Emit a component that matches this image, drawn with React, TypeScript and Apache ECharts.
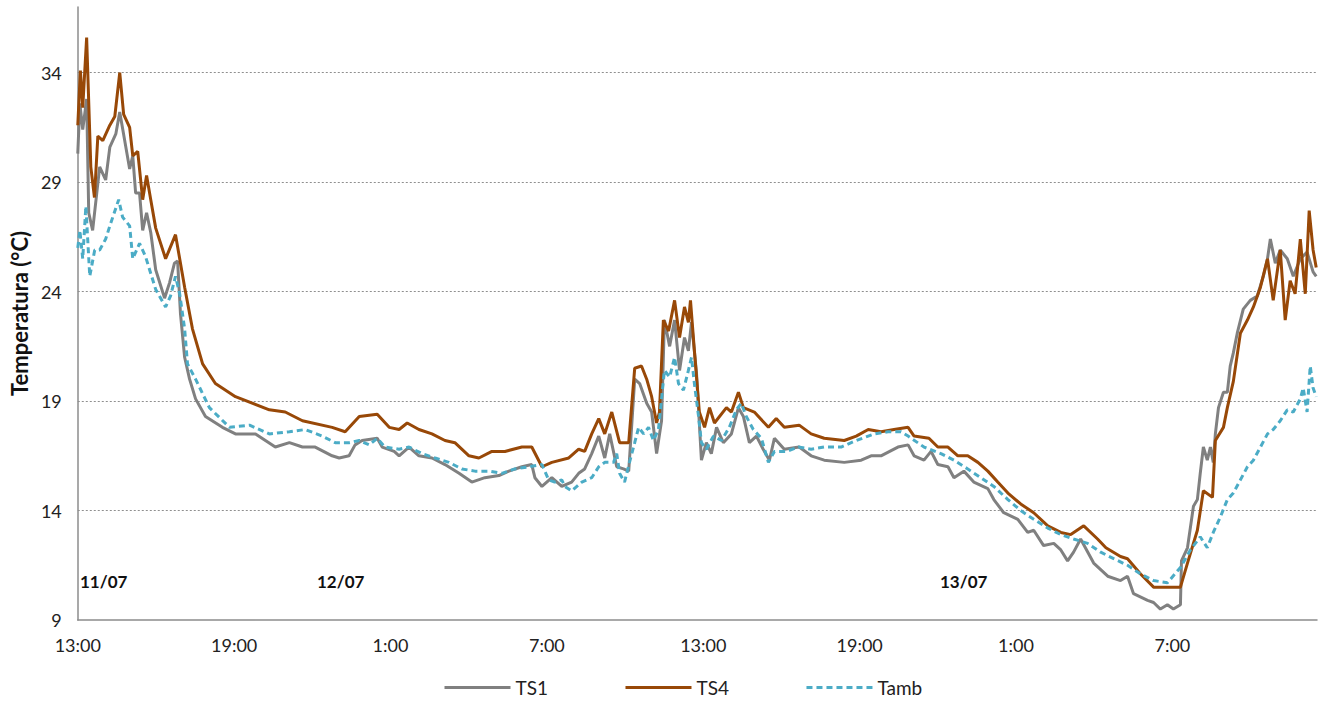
import React, { useEffect, useRef } from "react";
import * as echarts from "echarts";

// hours since 13:00 on 11/07
const ts1Hours = [0,0.08,0.19,0.34,0.42,0.57,0.84,1.07,1.23,1.46,1.61,1.8,1.99,2.11,2.22,2.37,2.49,2.64,2.8,2.99,3.33,3.52,3.71,3.83,3.94,4.1,4.29,4.52,4.9,5.55,6.05,6.82,7.58,8.12,8.62,9.11,9.76,10.03,10.41,10.64,10.91,11.49,11.68,12.14,12.33,12.71,13.09,13.59,14.09,14.63,15.12,15.62,16.16,16.54,17.04,17.42,17.54,17.81,18.19,18.57,18.95,19.22,19.45,19.72,19.99,20.22,20.41,20.68,20.94,21.14,21.37,21.56,21.83,22.02,22.21,22.4,22.51,22.71,22.9,23.09,23.28,23.43,23.55,23.74,23.93,24.12,24.31,24.51,24.77,25.08,25.35,25.54,25.77,26.04,26.3,26.54,26.73,27.11,27.68,28.14,28.64,29.41,30.06,30.44,30.82,31.47,31.86,32.09,32.47,32.74,33.0,33.39,33.62,34.0,34.38,34.92,35.15,35.53,36.07,36.45,36.68,37.06,37.45,37.72,37.98,38.21,38.48,38.98,39.52,40.01,40.28,40.51,41.05,41.28,41.54,41.81,42.04,42.31,42.35,42.58,42.81,42.96,43.07,43.19,43.34,43.46,43.57,43.65,43.77,43.96,44.11,44.22,44.34,44.49,44.72,44.99,45.26,45.49,45.65,45.76,45.95,46.14,46.41,46.64,46.91,47.17,47.4,47.52];
const ts1Values = [30.3,32.6,31.4,32.8,27.6,26.8,29.7,29.1,30.6,31.2,32.2,30.9,29.6,30.2,28.5,28.5,26.8,27.6,26.7,25.0,23.7,24.4,25.3,25.4,23.0,21.0,20.0,19.1,18.3,17.8,17.5,17.5,16.9,17.1,16.9,16.9,16.5,16.4,16.5,17.0,17.2,17.3,16.9,16.7,16.5,16.9,16.5,16.4,16.1,15.7,15.3,15.5,15.6,15.8,16.0,16.1,15.5,15.1,15.5,15.1,15.3,15.7,15.9,16.6,17.4,16.4,17.5,16.0,15.9,15.8,20.0,19.8,18.9,18.5,16.6,18.1,22.7,21.5,22.7,20.4,21.9,21.3,22.6,20.3,16.3,17.1,16.6,17.8,17.1,17.5,18.7,18.3,17.1,17.4,16.8,16.3,17.3,16.8,16.9,16.5,16.3,16.2,16.3,16.5,16.5,16.9,17.0,16.5,16.3,16.7,16.1,16.0,15.5,15.8,15.3,15.0,14.5,13.9,13.6,13.0,13.1,12.4,12.5,12.2,11.7,12.1,12.7,11.6,11.0,10.8,11.0,10.2,9.9,9.8,9.5,9.7,9.5,9.7,11.7,12.3,14.2,14.5,15.7,16.9,16.3,16.9,16.2,17.5,18.7,19.4,19.4,20.6,21.2,22.1,23.2,23.6,23.8,24.7,25.5,26.4,25.3,25.9,25.5,24.7,25.5,25.8,24.9,24.7];

const ts4Hours = [0,0.1,0.19,0.34,0.5,0.64,0.77,0.96,1.23,1.42,1.61,1.76,1.99,2.11,2.3,2.49,2.64,2.8,2.99,3.37,3.75,4.1,4.4,4.79,5.28,6.05,7.35,7.96,8.62,9.76,10.26,10.8,11.49,11.95,12.33,12.64,13.09,13.59,14.09,14.47,15.01,15.39,15.89,16.39,17.04,17.42,17.81,18.19,18.84,19.22,19.45,19.72,19.99,20.22,20.49,20.79,21.14,21.37,21.63,21.83,22.02,22.21,22.32,22.47,22.67,22.9,23.09,23.28,23.43,23.51,23.66,23.85,24.05,24.24,24.43,24.89,25.08,25.35,25.54,25.96,26.5,26.8,27.11,27.68,28.14,28.64,29.41,29.87,30.33,30.82,31.32,31.86,32.09,32.66,33.0,33.39,33.77,34.15,34.54,34.92,35.3,35.69,36.18,36.68,37.22,37.72,38.1,38.6,39.13,39.45,40.01,40.28,40.78,41.28,41.81,42.31,42.58,42.96,43.19,43.54,43.65,43.96,44.11,44.34,44.61,44.88,45.11,45.38,45.65,45.87,46.14,46.33,46.52,46.71,46.91,47.1,47.25,47.4,47.52];
const ts4Values = [31.6,34.1,32.4,35.6,29.7,28.3,31.1,30.9,31.6,32.0,34.0,32.1,31.5,30.2,30.4,28.2,29.3,28.2,26.9,25.5,26.6,24.2,22.3,20.7,19.8,19.2,18.6,18.5,18.1,17.8,17.6,18.3,18.4,17.8,17.7,18.0,17.7,17.5,17.2,17.1,16.5,16.4,16.7,16.7,16.9,16.9,16.0,16.2,16.4,16.8,16.7,17.5,18.2,17.5,18.5,17.1,17.1,20.5,20.6,20.0,19.2,18.0,18.5,22.7,22.2,23.6,21.9,23.3,22.6,23.6,21.3,18.5,17.8,18.7,18.0,18.7,18.5,19.4,18.7,18.5,17.8,18.2,17.8,17.9,17.5,17.3,17.2,17.4,17.7,17.6,17.7,17.8,17.4,17.3,16.9,16.9,16.5,16.5,16.2,15.8,15.3,14.8,14.3,13.9,13.3,13.0,12.9,13.3,12.7,12.3,11.9,11.8,11.1,10.5,10.5,10.5,11.6,13.1,14.9,14.6,17.2,17.8,18.7,19.9,22.1,22.7,23.3,24.2,25.5,23.6,25.9,22.7,24.5,23.9,26.4,23.9,27.7,25.9,25.1];

const tambHours = [0,0.08,0.19,0.31,0.46,0.65,0.84,1.07,1.23,1.57,1.72,1.99,2.11,2.37,2.6,2.99,3.37,3.56,3.75,3.91,4.1,4.21,4.52,5.05,5.82,6.59,7.35,8.12,8.73,9.38,9.88,10.41,10.8,11.18,11.49,11.79,12.33,12.71,13.21,13.71,14.24,14.74,15.24,15.78,16.27,16.77,17.31,17.81,18.07,18.3,18.57,18.69,18.95,19.34,19.72,19.99,20.22,20.56,20.68,20.79,20.98,21.17,21.37,21.52,21.71,21.9,22.09,22.28,22.4,22.51,22.71,22.9,23.05,23.24,23.43,23.55,23.66,23.82,23.93,24.12,24.39,24.7,25.0,25.27,25.46,25.65,25.92,26.23,26.5,26.73,27.19,27.65,28.14,28.64,29.29,29.87,30.33,30.56,31.09,31.59,31.86,32.47,33.12,33.62,34.15,34.65,35.15,35.69,36.18,36.68,37.22,37.72,38.21,38.75,39.25,39.75,40.28,40.78,41.28,41.81,42.31,42.69,43.07,43.34,43.57,43.84,44.11,44.34,44.61,44.88,45.11,45.38,45.65,45.87,46.14,46.41,46.64,46.91,47.02,47.17,47.29,47.4,47.52];
const tambValues = [26.0,26.8,25.5,27.9,24.7,25.9,25.9,26.4,27.0,28.2,27.4,27.0,25.5,26.2,25.6,24.1,23.3,23.8,24.7,23.9,22.3,20.7,20.0,18.7,17.8,17.9,17.5,17.6,17.7,17.4,17.1,17.1,17.2,17.0,17.3,16.9,16.8,16.9,16.6,16.4,16.2,15.9,15.8,15.8,15.7,15.9,16.0,16.1,15.4,15.3,15.4,15.1,14.9,15.3,15.5,16.0,16.2,16.2,16.6,15.7,15.3,16.2,17.1,17.8,17.5,17.8,17.2,17.7,19.1,20.4,20.1,21.0,19.8,19.5,20.4,21.0,19.8,18.3,17.1,16.8,17.4,17.2,17.8,18.6,18.9,18.3,17.7,17.3,16.2,16.7,16.7,16.9,16.8,16.9,16.9,17.2,17.4,17.5,17.6,17.6,17.4,16.9,16.6,16.3,15.9,15.5,15.1,14.5,14.0,13.6,13.2,12.9,12.7,12.5,12.1,11.8,11.5,11.1,10.8,10.7,11.4,12.2,12.8,12.3,13.0,13.7,14.5,14.8,15.4,16.0,16.3,16.9,17.5,17.7,18.1,18.6,18.5,19.1,19.6,18.5,20.6,19.6,19.2];

const gridValues = [14, 19, 24, 29, 34];
const dayLabels = ["11/07", "12/07", "13/07"];
const seriesNames = ["TS1", "TS4", "Tamb"];

const FONT = "Lato, 'Liberation Sans', sans-serif";

const zip = (h: number[], v: number[]) => h.map((x, i) => [x, v[i]]);

export default function App() {
  const ref = useRef<HTMLDivElement>(null);
  useEffect(() => {
    if (!ref.current) return;
    const chart = echarts.init(ref.current, undefined, { renderer: "svg" });
    chart.setOption({
      animation: false,
      backgroundColor: "#ffffff",
      grid: { left: 74, right: 5, top: 7, bottom: 84, containLabel: false },
      legend: {
        top: 678,
        left: 443,
        padding: 0,
        itemWidth: 66,
        itemHeight: 12,
        itemGap: 76,
        itemStyle: { opacity: 0 },
        lineStyle: { width: 3 },
        textStyle: { fontFamily: FONT, fontSize: 19, color: "#222" },
        data: seriesNames,
      },
      xAxis: {
        type: "value",
        min: 0,
        max: 47.55,
        interval: 6,
        axisLine: { show: true, lineStyle: { color: "#8c8c8c", width: 1.5 } },
        axisTick: { show: false },
        splitLine: { show: false },
        axisLabel: {
          showMaxLabel: false,
          margin: 16,
          fontFamily: FONT,
          fontSize: 18,
          color: "#222",
          formatter: (h: number) => (Math.abs(h % 6) < 1e-6 ? `${(13 + h) % 24}:00` : ""),
        },
      },
      yAxis: {
        type: "value",
        min: 9,
        max: 37,
        interval: 5,
        name: "Temperatura (°C)",
        nameLocation: "middle",
        nameRotate: 90,
        nameGap: 46,
        nameTextStyle: { fontFamily: FONT, fontSize: 22, fontWeight: "bold", color: "#111" },
        axisLine: { show: true, lineStyle: { color: "#8c8c8c", width: 1.5 } },
        axisTick: { show: false },
        splitLine: { show: false },
        axisLabel: {
          showMaxLabel: false,
          margin: 16,
          fontFamily: FONT,
          fontSize: 18,
          color: "#222",
          formatter: (v: number) => ((v - 9) % 5 === 0 ? String(v) : ""),
        },
      },
      graphic: [
        { type: "text", left: 80, top: 573, style: { text: dayLabels[0], font: `bold 17px ${FONT}`, fill: "#111" } },
        { type: "text", left: 317, top: 573, style: { text: dayLabels[1], font: `bold 17px ${FONT}`, fill: "#111" } },
        { type: "text", left: 940, top: 573, style: { text: dayLabels[2], font: `bold 17px ${FONT}`, fill: "#111" } },
      ],
      series: [
        {
          name: seriesNames[0],
          type: "line",
          data: zip(ts1Hours, ts1Values),
          symbol: "none",
          lineStyle: { color: "#808080", width: 3 },
          itemStyle: { color: "#808080" },
          z: 3,
          markLine: {
            silent: true,
            symbol: "none",
            label: { show: false },
            lineStyle: { color: "#8f8f8f", type: [2, 2], width: 1.2 },
            data: gridValues.map((v) => ({ yAxis: v })),
            z: 1,
          },
        },
        {
          name: seriesNames[1],
          type: "line",
          data: zip(ts4Hours, ts4Values),
          symbol: "none",
          lineStyle: { color: "#984807", width: 3 },
          itemStyle: { color: "#984807" },
          z: 4,
        },
        {
          name: seriesNames[2],
          type: "line",
          data: zip(tambHours, tambValues),
          symbol: "none",
          lineStyle: { color: "#4bacc6", width: 3, type: [6, 4] },
          itemStyle: { color: "#4bacc6" },
          z: 5,
        },
      ],
    });
    return () => chart.dispose();
  }, []);
  return (
    <div
      ref={ref}
      style={{ position: "absolute", left: 0, top: 0, width: 1322, height: 704 }}
    />
  );
}
